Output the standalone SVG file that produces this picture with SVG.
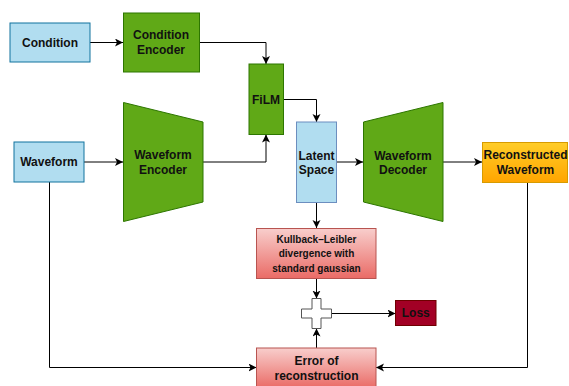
<svg xmlns="http://www.w3.org/2000/svg" width="569" height="386" viewBox="0 0 569 386">
<style>
text{font-family:"Liberation Sans",Arial,Helvetica,sans-serif;font-weight:bold;fill:#111;text-anchor:middle;dominant-baseline:central}
.t12{font-size:12px}
.t10{font-size:10px}
.blue{fill:#b1ddf0;stroke:#10739e;stroke-width:1}
.blue2{fill:#b1ddf0;stroke:#6c8ebf;stroke-width:1}
.green{fill:#60a917;stroke:#2d7600;stroke-width:1}
.red{fill:url(#gRed);stroke:#b85450;stroke-width:1}
.conn{fill:none;stroke:#000;stroke-width:1;marker-end:url(#arr)}
</style>
<defs>
<marker id="arr" markerUnits="userSpaceOnUse" markerWidth="10" markerHeight="10" refX="8" refY="4" orient="auto">
<path d="M0,0 L8,4 L0,8 L2,4 z" fill="#000"/>
</marker>
<linearGradient id="gRed" x1="0" y1="0" x2="0" y2="1">
<stop offset="0" stop-color="#f8cecc"/>
<stop offset="1" stop-color="#ea6b66"/>
</linearGradient>
<linearGradient id="gOrange" x1="0" y1="0" x2="0" y2="1">
<stop offset="0" stop-color="#ffcd28"/>
<stop offset="1" stop-color="#ffa500"/>
</linearGradient>
</defs>
<rect width="569" height="386" fill="#fff"/>
<g id="connectors">
<path class="conn" d="M90,42.5 H123"/>
<path class="conn" d="M199.5,42.5 H266 V64"/>
<path class="conn" d="M84,162 H123"/>
<path class="conn" d="M203,162 H266 V134.5"/>
<path class="conn" d="M283.5,99.5 H316.5 V122"/>
<path class="conn" d="M336.5,162 H363"/>
<path class="conn" d="M443,162 H482"/>
<path class="conn" d="M316.5,202.5 V228"/>
<path class="conn" d="M316.5,278.5 V298.5"/>
<path class="conn" d="M316.5,348 V328.5"/>
<path class="conn" d="M331.5,313.5 H395.5"/>
<path class="conn" d="M49.5,182 V367.5 H256.5"/>
<path class="conn" d="M527.5,182.5 V367.5 H376"/>
</g>
<g id="condition">
<rect class="blue" x="10" y="23" width="80" height="39"/>
<text class="t12" x="50" y="42.5">Condition</text>
</g>
<g id="condition-encoder">
<rect class="green" x="123.5" y="13" width="76" height="59"/>
<text class="t12" x="161" y="35">Condition</text>
<text class="t12" x="161" y="50">Encoder</text>
</g>
<g id="film">
<rect class="green" x="249" y="64" width="34.5" height="70.5"/>
<text class="t12" x="266" y="99.5">FiLM</text>
</g>
<g id="waveform">
<rect class="blue" x="14" y="142" width="70" height="40"/>
<text class="t12" x="49" y="162">Waveform</text>
</g>
<g id="waveform-encoder">
<polygon class="green" points="123.5,102.5 203,122 203,202 123.5,221.5"/>
<text class="t12" x="163" y="155">Waveform</text>
<text class="t12" x="163" y="170">Encoder</text>
</g>
<g id="latent-space">
<rect class="blue2" x="296.5" y="122" width="40" height="80.5"/>
<text class="t12" x="316.5" y="155.5">Latent</text>
<text class="t12" x="316.5" y="169.5">Space</text>
</g>
<g id="waveform-decoder">
<polygon class="green" points="363.5,122 443,102.5 443,221.5 363.5,202"/>
<text class="t12" x="403" y="155.5">Waveform</text>
<text class="t12" x="403" y="169.5">Decoder</text>
</g>
<g id="reconstructed-waveform">
<rect x="482.5" y="142.5" width="85" height="40" fill="url(#gOrange)" stroke="#d79b00" stroke-width="1"/>
<text class="t12" x="525.5" y="155">Reconstructed</text>
<text class="t12" x="525.5" y="170">Waveform</text>
</g>
<g id="kl-divergence">
<rect class="red" x="256.5" y="228.5" width="119.5" height="50"/>
<text class="t10" x="316.5" y="239.5">Kullback–Leibler</text>
<text class="t10" x="316.5" y="253.5">divergence with</text>
<text class="t10" x="316.5" y="268">standard gaussian</text>
</g>
<g id="plus">
<path d="M312,298.5 H321 V309 H331.5 V318 H321 V328.5 H312 V318 H301.5 V309 H312 Z" fill="#fff" stroke="#555" stroke-width="1"/>
</g>
<g id="loss">
<rect x="395.5" y="300.5" width="40.5" height="25" fill="#a20025" stroke="#6f0000" stroke-width="1"/>
<text class="t12" x="415.8" y="313">Loss</text>
</g>
<g id="error-reconstruction">
<rect class="red" x="256.5" y="348" width="119.5" height="40"/>
<text class="t12" x="316.5" y="361">Error of</text>
<text class="t12" x="316.5" y="376">reconstruction</text>
</g>
</svg>
